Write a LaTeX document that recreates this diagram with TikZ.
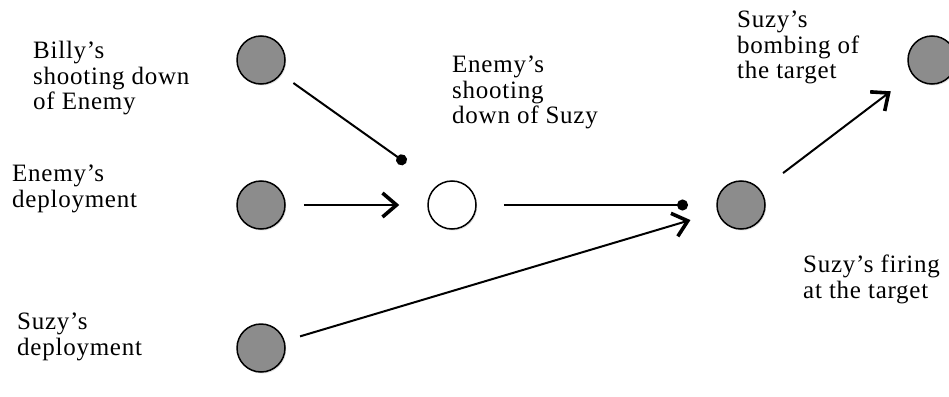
\documentclass[tikz,border=0pt]{standalone}
\usepackage{fontspec}
\setmainfont{Liberation Serif}[LetterSpace=3]
\usetikzlibrary{arrows.meta,shadows}
\begin{document}
\begin{tikzpicture}[x=1pt,y=-1pt,
  ev/.style={circle,draw,line width=1.5pt,minimum size=48pt,inner sep=0pt,
    drop shadow={shadow xshift=1.2pt,shadow yshift=-1.5pt,opacity=0.25}},
  evg/.style={ev,fill=black!45},
  evw/.style={ev,fill=white},
  lab/.style={anchor=north west,align=left,inner sep=0pt,font=\fontsize{25}{25.5}\selectfont},
  conn/.style={line width=2pt},
  arr/.style={conn,-{Straight Barb[length=14pt,width=24pt,line width=3.6pt]}},
  inh/.style={conn,-{Circle[length=11pt]}}]
\useasboundingbox (0,0) rectangle (949,396);
\clip (0,0) rectangle (949,396);
% events
\node[evg] (billy) at (261,60) {};
\node[evg] (edep) at (261,205) {};
\node[evg] (sdep) at (261,348) {};
\node[evw] (eshoot) at (452,205) {};
\node[evg] (sfire) at (741,205) {};
\node[evg] (sbomb) at (932,60) {};
\coordinate (dotA) at (406,163);
\coordinate (dotB) at (688,205);
% labels
\node[lab] (lbilly) at (33,41) {Billy’s\\shooting down\\of Enemy};
\node[lab] (ledep) at (12,165) {Enemy’s\\deployment};
\node[lab] (lsdep) at (17,313) {Suzy’s\\deployment};
\node[lab] (leshoot) at (452,56) {Enemy’s\\shooting\\down of Suzy};
\node[lab] (lsbomb) at (737,11) {Suzy’s\\bombing of\\the target};
\node[lab] (lsfire) at (803,255) {Suzy’s firing\\at the target};
% connectors
\draw[inh,shorten <=15pt] (billy) -- (dotA);
\draw[arr,shorten <=18pt,shorten >=28pt] (edep) -- (eshoot);
\draw[inh,shorten <=27pt] (eshoot) -- (dotB);
\draw[arr,shorten <=16pt,shorten >=28pt] (sdep) -- (sfire);
\draw[arr,shorten <=28pt,shorten >=27pt] (sfire) -- (sbomb);
\end{tikzpicture}
\end{document}
